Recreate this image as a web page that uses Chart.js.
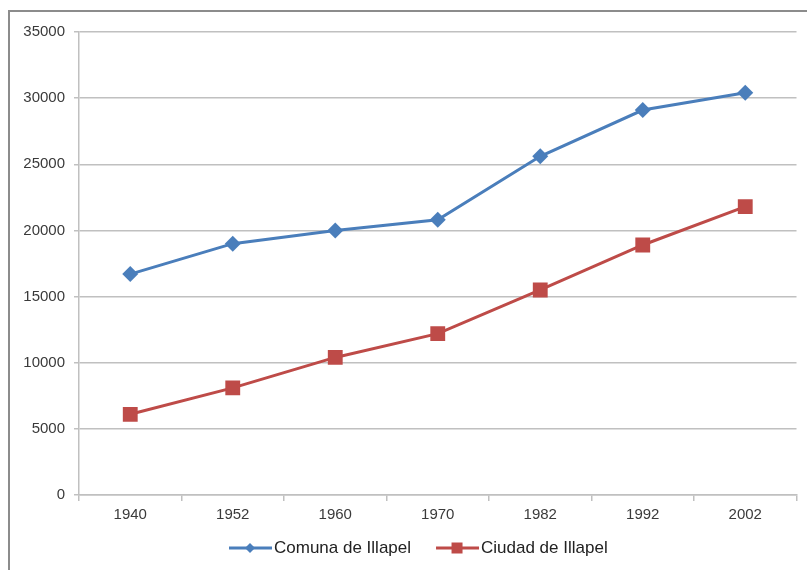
<!DOCTYPE html>
<html>
<head>
<meta charset="utf-8">
<title>Población de Illapel</title>
<script src="https://cdn.jsdelivr.net/npm/chart.js@4/dist/chart.umd.min.js"></script>
<style>
  html, body { margin: 0; padding: 0; background: #ffffff; }
  #wrap { position: relative; width: 807px; height: 570px; overflow: hidden; }
  #frame {
    position: absolute; left: 8px; top: 10px; width: 820px; height: 580px;
    border-left: 2px solid #8c8c8c; border-top: 2px solid #8c8c8c;
    pointer-events: none;
  }
  canvas { position: absolute; left: 0; top: 0; }
</style>
</head>
<body>
<div id="wrap">
  <canvas id="chart" width="807" height="570"></canvas>
  <div id="frame"></div>
</div>
<script>
// Census years
const years = ['1940', '1952', '1960', '1970', '1982', '1992', '2002'];
// Population of the commune
const comuna = [16700, 19000, 20000, 20800, 25600, 29100, 30400];
// Population of the city
const ciudad = [6100, 8100, 10400, 12200, 15500, 18900, 21800];
// Y axis tick values
const yTicks = [0, 5000, 10000, 15000, 20000, 25000, 30000, 35000];

const seriesNames = ['Comuna de Illapel', 'Ciudad de Illapel'];
const BLUE = '#4a7ebb';
const RED = '#be4b48';
const FONT = '"Liberation Sans", Arial, sans-serif';

// Legend drawn below the axis: a short line with the series marker, then the name
const lineLegend = {
  id: 'lineLegend',
  afterDraw(chart) {
    const ctx = chart.ctx;
    const y = 548;
    let x = 229;
    ctx.save();
    ctx.font = '17px ' + FONT;
    ctx.textBaseline = 'middle';
    chart.data.datasets.forEach((ds, i) => {
      ctx.strokeStyle = ds.borderColor;
      ctx.lineWidth = 3;
      ctx.beginPath();
      ctx.moveTo(x, y);
      ctx.lineTo(x + 43, y);
      ctx.stroke();
      ctx.fillStyle = ds.borderColor;
      ctx.beginPath();
      const cx = x + 21;
      if (ds.pointStyle === 'rectRot') {
        ctx.moveTo(cx - 5, y);
        ctx.lineTo(cx, y - 5);
        ctx.lineTo(cx + 5, y);
        ctx.lineTo(cx, y + 5);
        ctx.closePath();
      } else {
        ctx.rect(cx - 5.5, y - 5.5, 11, 11);
      }
      ctx.fill();
      ctx.fillStyle = '#222222';
      ctx.textAlign = 'left';
      ctx.fillText(ds.label, x + 45, y);
      x += 45 + ctx.measureText(ds.label).width + 25;
    });
    ctx.restore();
  }
};

new Chart(document.getElementById('chart'), {
  type: 'line',
  data: {
    labels: years,
    datasets: [
      {
        label: seriesNames[0],
        data: comuna,
        borderColor: BLUE,
        backgroundColor: BLUE,
        borderWidth: 3,
        pointStyle: 'rectRot',
        pointRadius: 8,
        pointHoverRadius: 8,
        pointBorderWidth: 0,
        tension: 0
      },
      {
        label: seriesNames[1],
        data: ciudad,
        borderColor: RED,
        backgroundColor: RED,
        borderWidth: 3,
        pointStyle: 'rect',
        pointRadius: 10.5,
        pointHoverRadius: 10.5,
        pointBorderWidth: 0,
        tension: 0
      }
    ]
  },
  options: {
    responsive: false,
    animation: false,
    layout: { padding: { top: 32, right: 10, bottom: 45, left: 0 } },
    plugins: {
      legend: { display: false },
      tooltip: { enabled: false }
    },
    scales: {
      x: {
        offset: true,
        afterFit(scale) { scale.height = 30; },
        border: { display: true, color: '#c0c0c0', width: 1.5 },
        grid: {
          offset: true,
          drawOnChartArea: false,
          drawTicks: true,
          tickLength: 6,
          color: '#c0c0c0',
          lineWidth: 1.5
        },
        ticks: {
          color: '#3a3a3a',
          font: { family: FONT, size: 15 },
          padding: 5,
          maxRotation: 0
        }
      },
      y: {
        min: 0,
        max: 35000,
        afterFit(scale) { scale.width = 79; },
        afterBuildTicks(scale) { scale.ticks = yTicks.map(v => ({ value: v })); },
        border: { display: true, color: '#c0c0c0', width: 1.5 },
        grid: {
          color: '#c0c0c0',
          lineWidth: 1.5,
          drawTicks: true,
          tickLength: 5
        },
        ticks: {
          color: '#3a3a3a',
          font: { family: FONT, size: 15 },
          padding: 9,
          callback: v => String(v)
        }
      }
    }
  },
  plugins: [lineLegend]
});
</script>
</body>
</html>
